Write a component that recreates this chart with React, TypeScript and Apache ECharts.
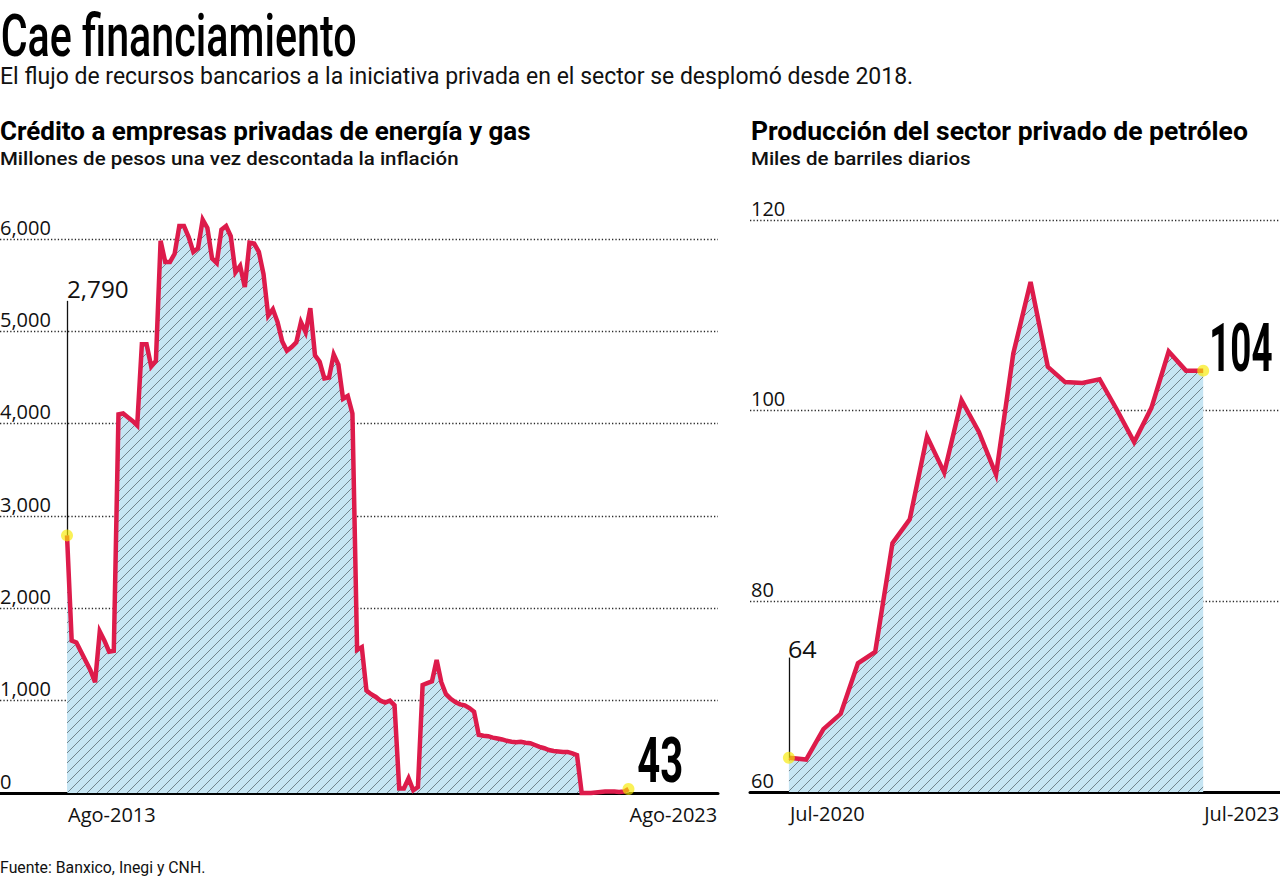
import React, { useEffect, useRef } from "react";
import * as echarts from "echarts";

// ---------- DATA ----------
// Crédito a empresas privadas de energía y gas (monthly, Ago-2013 .. Ago-2023), millones de pesos
const creditValues: number[] = [
  2790, 1650, 1630, 1530, 1430, 1330, 1200, 1750, 1650, 1530,
  1540, 4100, 4110, 4070, 4030, 3980, 4860, 4860, 4620, 4680,
  5980, 5750, 5750, 5840, 6140, 6140, 6020, 5860, 5900, 6210,
  6120, 5790, 5740, 6100, 6140, 6030, 5640, 5710, 5480, 5960,
  5950, 5860, 5620, 5170, 5240, 5100, 4890, 4790, 4830, 4880,
  5100, 4990, 5250, 4740, 4670, 4490, 4500, 4750, 4640, 4270,
  4300, 4110, 1550, 1580, 1110, 1070, 1040, 1000, 980, 1000,
  950, 50, 50, 160, 30, 65, 1170, 1190, 1210, 1440,
  1200, 1070, 1020, 985, 960, 950, 920, 880, 630, 620,
  615, 600, 590, 580, 565, 555, 550, 555, 545, 540,
  520, 500, 485, 465, 455, 450, 445, 445, 430, 410,
  0, 0, 0, 5, 10, 15, 15, 15, 12, 15, 43,
];
const creditXLabels: string[] = ["Ago-2013", "Ago-2023"];
const creditYTicks: number[] = [0, 1000, 2000, 3000, 4000, 5000, 6000];
const creditStartLabel = "2,790";
const creditEndLabel = "43";
const creditLeaderTop = 5330;

// Producción del sector privado de petróleo, miles de barriles diarios
const productionValues: number[] = [
  63.6, 63.4, 66.6, 68.2, 73.5, 74.7, 86.1, 88.6, 97.3, 93.5,
  101.1, 97.8, 93.3, 106.0, 113.5, 104.6, 103.0, 102.9, 103.3, 100.1,
  96.7, 100.3, 106.2, 104.2, 104.2,
];
const productionXLabels: string[] = ["Jul-2020", "Jul-2023"];
const productionYTicks: number[] = [60, 80, 100, 120];
const productionStartLabel = "64";
const productionEndLabel = "104";
const productionLeaderTop = 74.1;

const titleText = "Cae financiamiento";
const subtitleText =
  "El flujo de recursos bancarios a la iniciativa privada en el sector se desplomó desde 2018.";
const leftTitle = "Crédito a empresas privadas de energía y gas";
const leftSub = "Millones de pesos una vez descontada la inflación";
const rightTitle = "Producción del sector privado de petróleo";
const rightSub = "Miles de barriles diarios";
const sourceText = "Fuente: Banxico, Inegi y CNH.";

// ---------- STYLE ----------
const RED = "#dd1b4b";
const DOT = "rgba(247,234,0,0.82)";
const TICK_FONT = "Open Sans";

function makeHatch(): HTMLCanvasElement {
  const c = document.createElement("canvas");
  c.width = 10;
  c.height = 10;
  const ctx = c.getContext("2d")!;
  ctx.fillStyle = "#c6e5f3";
  ctx.fillRect(0, 0, 10, 10);
  ctx.strokeStyle = "#62727a";
  ctx.lineWidth = 0.85;
  ctx.beginPath();
  ctx.moveTo(-1, 11);
  ctx.lineTo(11, -1);
  ctx.moveTo(-1, 1);
  ctx.lineTo(1, -1);
  ctx.moveTo(9, 11);
  ctx.lineTo(11, 9);
  ctx.stroke();
  return c;
}

function fitText(
  text: string,
  family: string,
  weight: number | string,
  size: number,
  left: number,
  right: number,
  cy: number,
  color = "#111"
) {
  const c = document.createElement("canvas");
  const ctx = c.getContext("2d")!;
  ctx.font = `${weight} ${size}px "${family}"`;
  ctx.textAlign = "left";
  const m = ctx.measureText(text);
  const abl = m.actualBoundingBoxLeft || 0;
  const abr = m.actualBoundingBoxRight || m.width;
  const w = abl + abr;
  const scale = (right - left) / w;
  return {
    type: "text",
    x: left + abl * scale,
    y: cy,
    scaleX: scale,
    silent: true,
    style: {
      text,
      fontFamily: family,
      fontWeight: weight,
      fontSize: size,
      fill: color,
      align: "left",
      textAlign: "left",
      verticalAlign: "middle",
      textVerticalAlign: "middle",
    },
  };
}

export default function App() {
  const ref = useRef<HTMLDivElement>(null);

  useEffect(() => {
    if (!ref.current) return;
    const chart = echarts.init(ref.current, null, {
      renderer: "svg",
      width: 1280,
      height: 878,
    });
    const hatch = makeHatch();
    const area = {
      color: { image: hatch, repeat: "repeat", imageWidth: 10, imageHeight: 10 },
      opacity: 1,
    };
    const lastC = creditValues.length - 1;
    const lastP = productionValues.length - 1;
    const creditXPos = [0, lastC];
    const prodXPos = [0, lastP];

    const gridLine = { show: true, lineStyle: { color: "#2a2a2a", type: [1.3, 2.1], width: 1.3 } };
    const yLabel = {
      inside: true,
      margin: 0,
      verticalAlign: "bottom",
      lineHeight: 24,
      fontFamily: TICK_FONT,
      fontSize: 20,
      color: "#111",
    };
    const xLabel = {
      align: "left",
      verticalAlign: "middle",
      margin: 21,
      padding: [0, 0, 0, 1],
      fontFamily: TICK_FONT,
      fontSize: 20,
      color: "#111",
    };

    const option: any = {
      animation: false,
      backgroundColor: "#ffffff",
      grid: [
        { left: 0, top: 239, width: 718, height: 554, containLabel: false, outerBoundsMode: "none" },
        { left: 750, top: 220, width: 530, height: 572, containLabel: false, outerBoundsMode: "none" },
      ],
      xAxis: [
        {
          gridIndex: 0,
          type: "value",
          min: -14.32,
          max: 139.13,
          axisLine: { show: true, onZero: false, lineStyle: { color: "#000", width: 3 } },
          axisTick: { show: false },
          splitLine: { show: false },
          axisLabel: {
            ...xLabel,
            customValues: creditXPos,
            formatter: (v: number) => creditXLabels[creditXPos.indexOf(v)] ?? "",
          },
        },
        {
          gridIndex: 1,
          type: "value",
          min: -2.253,
          max: 28.449,
          axisLine: { show: true, onZero: false, lineStyle: { color: "#000", width: 3 } },
          axisTick: { show: false },
          splitLine: { show: false },
          axisLabel: {
            ...xLabel,
            customValues: prodXPos,
            formatter: (v: number) => productionXLabels[prodXPos.indexOf(v)] ?? "",
          },
        },
      ],
      yAxis: [
        {
          gridIndex: 0,
          type: "value",
          min: creditYTicks[0],
          max: creditYTicks[creditYTicks.length - 1],
          interval: creditYTicks[1] - creditYTicks[0],
          axisLine: { show: false },
          axisTick: { show: false },
          splitLine: gridLine,
          axisLabel: {
            ...yLabel,
            formatter: (v: number) => v.toLocaleString("en-US"),
          },
        },
        {
          gridIndex: 1,
          type: "value",
          min: productionYTicks[0],
          max: productionYTicks[productionYTicks.length - 1],
          interval: productionYTicks[1] - productionYTicks[0],
          axisLine: { show: false },
          axisTick: { show: false },
          splitLine: gridLine,
          axisLabel: { ...yLabel, margin: 1 },
        },
      ],
      series: [
        {
          type: "line",
          xAxisIndex: 0,
          yAxisIndex: 0,
          data: creditValues.map((v, i) => [i, v]),
          symbol: "none",
          clip: false,
          z: 3,
          lineStyle: { color: RED, width: 4.5, join: "miter" },
          areaStyle: area,
          markLine: {
            silent: true,
            symbol: "none",
            label: { show: false },
            lineStyle: { color: "#111", width: 1.3, type: "solid" },
            data: [[{ coord: [0, creditValues[0]] }, { coord: [0, creditLeaderTop] }]],
          },
        },
        {
          type: "scatter",
          xAxisIndex: 0,
          yAxisIndex: 0,
          z: 5,
          symbolSize: 12,
          itemStyle: { color: DOT },
          data: [[0, creditValues[0]], [lastC, creditValues[lastC]]],
        },
        {
          type: "line",
          xAxisIndex: 1,
          yAxisIndex: 1,
          data: productionValues.map((v, i) => [i, v]),
          symbol: "none",
          clip: false,
          z: 3,
          lineStyle: { color: RED, width: 4.5, join: "miter" },
          areaStyle: area,
          markLine: {
            silent: true,
            symbol: "none",
            label: { show: false },
            lineStyle: { color: "#111", width: 1.3, type: "solid" },
            data: [[{ coord: [0, productionValues[0]] }, { coord: [0, productionLeaderTop] }]],
          },
        },
        {
          type: "scatter",
          xAxisIndex: 1,
          yAxisIndex: 1,
          z: 5,
          symbolSize: 12,
          itemStyle: { color: DOT },
          data: [[0, productionValues[0]], [lastP, productionValues[lastP]]],
        },
      ],
      graphic: [
        fitText(titleText, "Roboto", 500, 60, 2, 355, 36, "#000"),
        fitText(subtitleText, "Roboto", 400, 24, 1, 912, 76, "#111"),
        fitText(leftTitle, "Roboto", 700, 25, 1, 530, 131, "#000"),
        fitText(leftSub, "Roboto", 500, 19, 1, 458, 159, "#111"),
        fitText(rightTitle, "Roboto", 700, 25, 752, 1248, 131, "#000"),
        fitText(rightSub, "Roboto", 500, 19, 752, 970, 159, "#111"),
        fitText(sourceText, "Roboto", 400, 17, 1, 205, 867, "#111"),
        fitText(creditStartLabel, TICK_FONT, 400, 24, 68, 128, 288.5, "#111"),
        fitText(productionStartLabel, TICK_FONT, 400, 24, 789, 817, 648.5, "#111"),
        fitText(creditEndLabel, "Roboto", 700, 63, 638, 682, 760.5, "#000"),
        fitText(productionEndLabel, "Roboto", 700, 66, 1212, 1272, 348.5, "#000"),
      ],
    };
    chart.setOption(option);
    return () => chart.dispose();
  }, []);

  return (
    <div
      ref={ref}
      style={{ position: "fixed", left: 0, top: 0, width: 1280, height: 878, background: "#fff" }}
    />
  );
}
